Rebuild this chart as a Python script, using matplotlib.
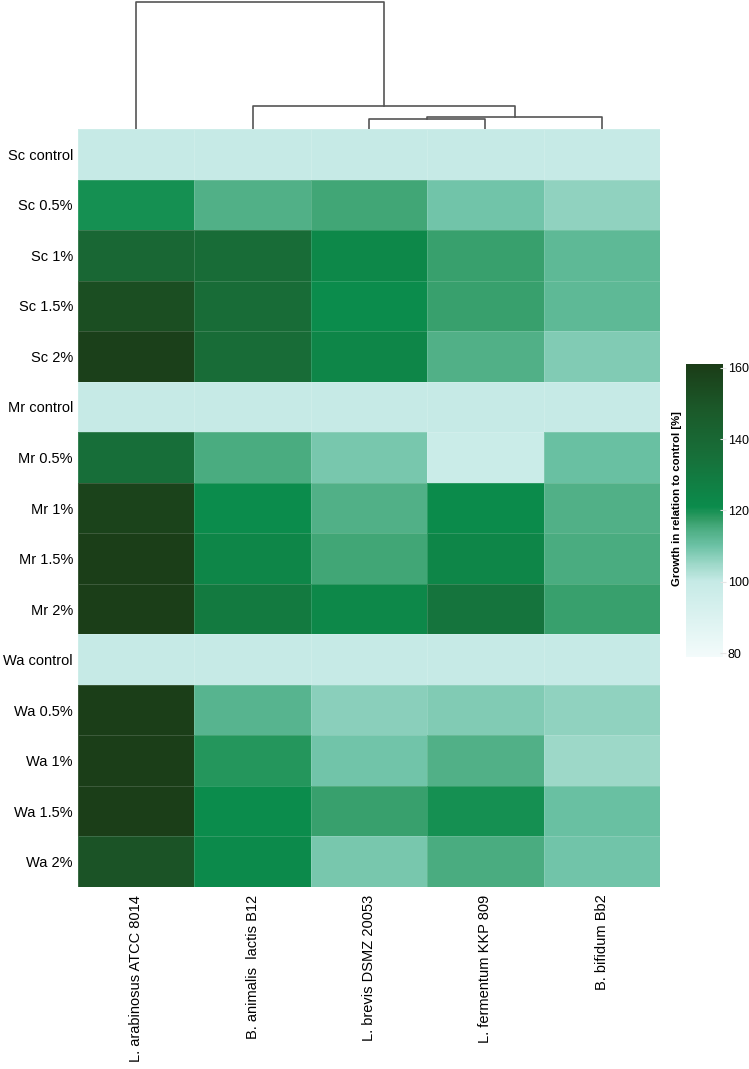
import numpy as np
import matplotlib
matplotlib.use("Agg")
import matplotlib.pyplot as plt
from matplotlib.colors import LinearSegmentedColormap, Normalize

plt.rcParams['font.family'] = ['Liberation Sans', 'DejaVu Sans']

rows = ["Sc control", "Sc 0.5%", "Sc 1%", "Sc 1.5%", "Sc 2%",
        "Mr control", "Mr 0.5%", "Mr 1%", "Mr 1.5%", "Mr 2%",
        "Wa control", "Wa 0.5%", "Wa 1%", "Wa 1.5%", "Wa 2%"]
cols = ["L. arabinosus ATCC 8014", "B. animalis  lactis B12", "L. brevis DSMZ 20053",
        "L. fermentum KKP 809", "B. bifidum Bb2"]

l_arabinosus = [100, 120, 140, 153, 159, 100, 136, 158, 160, 160, 100, 160, 160, 160, 151]
b_animalis   = [100, 114, 137, 137, 137, 100, 115, 121, 124, 130, 100, 113, 119, 121, 122]
l_brevis     = [100, 116, 123, 121, 124, 100, 109, 114, 116, 123, 100, 107, 109.5, 117, 109]
l_fermentum  = [100, 109.5, 117, 117, 114, 100, 98, 121.5, 124, 133, 100, 108, 114, 120, 115]
b_bifidum    = [100, 106.5, 112, 112, 108, 100, 110.5, 114, 115, 117, 100, 106.5, 105, 110.5, 109.5]

# dendrogram link heights over columns
link_heights = [10.5, 12.0, 23.0, 128.0]

cb_ticks = [80, 100, 120, 140, 160]
vmin, vmax = 79, 161

data = np.array([l_arabinosus, b_animalis, l_brevis, l_fermentum, b_bifidum]).T

nodes = [(79, '#f3fbfb'), (100, '#c6eae6'), (105, '#9dd8c8'), (110, '#6dc2a6'),
         (115, '#4aac80'), (118, '#2e9a62'), (121, '#0b8c4c'), (135, '#17703a'),
         (148, '#1b5a2a'), (161, '#1b3c17')]
cmap = LinearSegmentedColormap.from_list(
    'g', [((v - vmin) / (vmax - vmin), c) for v, c in nodes])
norm = Normalize(vmin, vmax)

W, H = 749, 1069
fig = plt.figure(figsize=(W / 100, H / 100), dpi=100)

def fax(l, t, r, b):
    return fig.add_axes([l / W, 1 - b / H, (r - l) / W, (b - t) / H])

ax = fax(78, 129, 660, 887)
ax.pcolormesh(np.arange(len(cols) + 1), np.arange(len(rows) + 1), data,
              cmap=cmap, norm=norm, edgecolors=(1, 1, 1, 0.15), linewidth=0.6)
ax.set_xlim(0, len(cols))
ax.set_ylim(len(rows), 0)
ax.set_yticks(np.arange(len(rows)) + 0.5)
ax.set_yticklabels(rows, fontsize=10.5)
ax.set_xticks(np.arange(len(cols)) + 0.5)
ax.set_xticklabels(cols, rotation=90, fontsize=10.5)
ax.tick_params(axis='y', length=0, pad=3.6)
ax.tick_params(axis='x', length=0, pad=5.5)
for s in ax.spines.values():
    s.set_visible(False)

# dendrogram
dax = fax(78, 1, 660, 129)
dax.set_xlim(0, len(cols))
dax.set_ylim(0, link_heights[3] + 1.2)
dax.axis('off')
xc = np.arange(len(cols)) + 0.5
lc = dict(color='#555555', lw=1.2)

def link(xa, ya, xb, yb, h):
    dax.plot([xa, xa, xb, xb], [ya, h, h, yb], **lc)
    return (xa + xb) / 2

c23 = link(xc[2], 0, xc[3], 0, link_heights[0])
c234 = link(c23, link_heights[0], xc[4], 0, link_heights[1])
c1234 = link(xc[1], 0, c234, link_heights[1], link_heights[2])
link(xc[0], 0, c1234, link_heights[2], link_heights[3])

# colorbar
cax = fax(686, 364, 723, 657)
cb = fig.colorbar(plt.cm.ScalarMappable(norm=norm, cmap=cmap), cax=cax)
cb.outline.set_visible(False)
cb.set_ticks(cb_ticks)
cax.tick_params(labelsize=9, length=4, width=0.8, color='#e6e6e6',
                direction='inout', pad=1.5)
fig.text(676.5 / W, 1 - 499 / H, "Growth in relation to control [%]", rotation=90,
         ha='center', va='center', fontsize=8.2, fontweight='bold')

fig.savefig("out.png", dpi=100)
